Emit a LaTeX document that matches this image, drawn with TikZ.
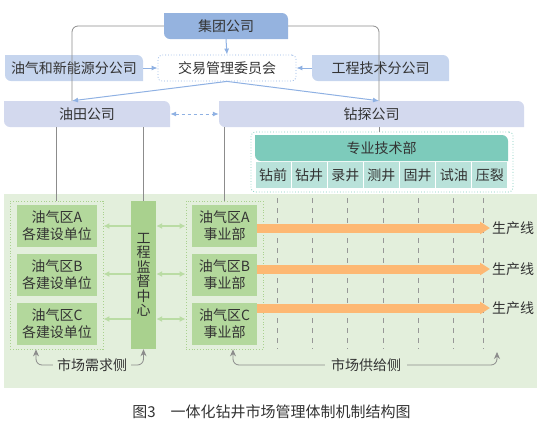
\documentclass[tikz,border=0pt]{standalone}
\usepackage{fontspec}
\setmainfont{Noto Sans CJK SC}
\usetikzlibrary{arrows.meta}

\definecolor{textgray}{HTML}{333333}
\definecolor{jtblue}{HTML}{95B3DF}
\definecolor{fgsblue}{HTML}{C6D5EE}
\definecolor{gslav}{HTML}{D3D9EE}
\definecolor{arrblue}{HTML}{8FB1E3}
\definecolor{teal}{HTML}{7DCBBB}
\definecolor{lightteal}{HTML}{B9E2DA}
\definecolor{bggreen}{HTML}{E3EFDC}
\definecolor{boxgreen}{HTML}{B3D89C}
\definecolor{bargreen}{HTML}{A9D18E}
\definecolor{arrgreen}{HTML}{BADCA4}
\definecolor{prodorange}{HTML}{FDB873}
\definecolor{linegray}{HTML}{8C8C8C}

\begin{document}
\begin{tikzpicture}[
    x=1pt, y=-1pt,
    font=\fontsize{14}{17}\selectfont,
    text=textgray,
    % Define styles
    box/.style={
        inner sep=0pt,
        minimum height=26pt
    },
    leaf/.style={
        box,
        path picture={
            \fill[#1] (path picture bounding box.west)
                -- (path picture bounding box.north west)
                [rounded corners=6pt] -- (path picture bounding box.north east)
                [sharp corners] -- (path picture bounding box.south east)
                [rounded corners=6pt] -- (path picture bounding box.south west)
                [sharp corners] -- cycle;
        }
    },
    dotbox/.style={
        draw=#1,
        dotted,
        line width=0.8pt,
        inner sep=0pt
    },
    cell/.style={
        fill=lightteal,
        inner sep=0pt,
        minimum width=35.1pt,
        minimum height=26pt
    },
    unitbox/.style={
        fill=boxgreen,
        inner sep=0pt,
        minimum width=80pt,
        minimum height=42pt,
        align=center
    },
    deptbox/.style={
        unitbox,
        minimum width=65pt
    },
    grayline/.style={
        linegray,
        line width=0.8pt,
        rounded corners=6pt
    },
    grayarr/.style={
        grayline,
        -{Stealth[length=7pt,width=6pt]}
    },
    bluearr/.style={
        arrblue,
        line width=1pt,
        -{Latex[length=6pt,width=5pt]}
    },
    bluedouble/.style={
        arrblue,
        line width=1pt,
        dashed,
        {Latex[length=6pt,width=5pt]}-{Latex[length=6pt,width=5pt]}
    },
    greenarr/.style={
        arrgreen,
        line width=1.4pt,
        -{Latex[length=6pt,width=6pt]}
    },
    greendouble/.style={
        arrgreen,
        line width=1.4pt,
        {Latex[length=6pt,width=6pt]}-{Latex[length=6pt,width=6pt]}
    },
    prodline/.style={
        prodorange,
        line width=9pt,
        -{Triangle[length=10pt,width=12pt]}
    },
    dashline/.style={
        linegray!90,
        line width=0.8pt,
        dash pattern=on 5pt off 5pt
    }
]
    \useasboundingbox (0,0) rectangle (544,432);

    % --- Market area background ---
    \node[fill=bggreen, inner sep=0pt, minimum width=533pt, minimum height=194pt] (bg) at (270.5,291) {};

    % --- Top level ---
    \node[leaf=jtblue, minimum width=124pt] (jt) at (226,26) {集团公司};
    \node[box, draw=arrblue, dotted, line width=0.8pt, rounded corners=4pt, minimum width=138pt] (jy) at (227,68) {交易管理委员会};
    \node[leaf=fgsblue, minimum width=138pt] (yq) at (74,68) {油气和新能源分公司};
    \node[leaf=fgsblue, minimum width=137pt] (gc) at (380.5,68) {工程技术分公司};

    % --- Companies ---
    \node[leaf=gslav, minimum width=166pt] (yt) at (87,114) {油田公司};
    \node[leaf=gslav, minimum width=305pt] (zt) at (371.5,114) {钻探公司};

    % Gray lines from the group
    \draw[grayline] (jt.west) -| ([xshift=-15pt]yt.north);
    \draw[grayline] (jt.east) -| ([xshift=7.5pt]zt.north);

    % Blue arrows
    \draw[bluearr] (jt.south) -- (jy.north);
    \draw[bluearr] (yq.east) -- (jy.west);
    \draw[bluearr] (gc.west) -- (jy.east);
    \draw[bluearr] (jy.south) -- ([xshift=-15pt]yt.north);
    \draw[bluearr] (jy.south) -- ([xshift=7.5pt]zt.north);
    \draw[bluedouble] (yt.east) -- (zt.west);

    % --- Technical department ---
    \node[dotbox=teal, rounded corners=4pt, minimum width=262pt, minimum height=60pt] (zjbox) at (382,162) {};
    \node[leaf=teal, minimum width=253pt] (zj) at (381.5,148) {专业技术部};
    \foreach \i/\t in {1/钻前, 2/钻井, 3/录井, 4/测井, 5/固井, 6/试油, 7/压裂} {
        \node[cell] (c\i) at (255+36.14*\i-18.07,175) {\t};
    }
    \draw[grayline] ([xshift=7.5pt]zt.south) -- ([xshift=7.5pt]zt.south |- zjbox.north);

    % --- Demand side ---
    \node[dotbox=bargreen, minimum width=93pt, minimum height=148pt] (gL) at (56.5,275) {};
    \node[unitbox] (lA) at (57,226) {油气区A\\各建设单位};
    \node[unitbox] (lB) at (57,275) {油气区B\\各建设单位};
    \node[unitbox] (lC) at (57,324) {油气区C\\各建设单位};

    % Supervision bar
    \node[fill=bargreen, inner sep=0pt, minimum width=25pt, minimum height=148pt,
          align=center, font=\fontsize{14}{14.5}\selectfont] (jd) at (143.5,275)
          {工\\程\\监\\督\\中\\心};

    % --- Supply side ---
    \node[dotbox=bargreen, minimum width=77pt, minimum height=148pt] (gR) at (224.5,275) {};
    \node[deptbox] (rA) at (224.5,226) {油气区A\\事业部};
    \node[deptbox] (rB) at (224.5,275) {油气区B\\事业部};
    \node[deptbox] (rC) at (224.5,324) {油气区C\\事业部};

    % Lines down from the companies
    \draw[grayline] (gL.north |- yt.south) -- (gL.north);
    \draw[grayline] (jd.north |- yt.south) -- (jd.north);
    \draw[grayline] (gR.north |- zt.south) -- (gR.north);

    % Green arrows round the supervision bar
    \foreach \y in {226, 274, 319} {
        \draw[greenarr] (jd.west |- 0,\y) -- (gL.east |- 0,\y);
        \draw[greendouble] (jd.east |- 0,\y) -- (gR.west |- 0,\y);
    }

    % Dashed lines under each speciality
    \foreach \x in {277, 312, 347, 383, 418, 453, 483} {
        \draw[dashline] (\x,198) -- (\x,349);
    }

    % Production lines
    \node[anchor=west, inner sep=2pt] (s1) at (490,228) {生产线};
    \node[anchor=west, inner sep=2pt] (s2) at (490,269) {生产线};
    \node[anchor=west, inner sep=2pt] (s3) at (490,308) {生产线};
    \draw[prodline] (rA.east |- s1.west) -- (s1.west);
    \draw[prodline] (rB.east |- s2.west) -- (s2.west);
    \draw[prodline] (rC.east |- s3.west) -- (s3.west);

    % Market sides
    \node[inner sep=4pt] (xq) at (92,365) {市场需求侧};
    \draw[grayarr] (xq.west) -| ([xshift=-20.5pt]gL.south);
    \draw[grayarr] (xq.east) -| (jd.south);

    \node[inner sep=6pt] (gj) at (366,365) {市场供给侧};
    \coordinate (gjend) at (497,352);
    \draw[grayarr] (gj.west) -| ([xshift=8.5pt]gR.south);
    \draw[grayarr] (gj.east) -| (gjend);

    % Caption
    \node[font=\fontsize{15}{18}\selectfont] (cap) at (271.5,412) {图3\quad 一体化钻井市场管理体制机制结构图};

\end{tikzpicture}
\end{document}
